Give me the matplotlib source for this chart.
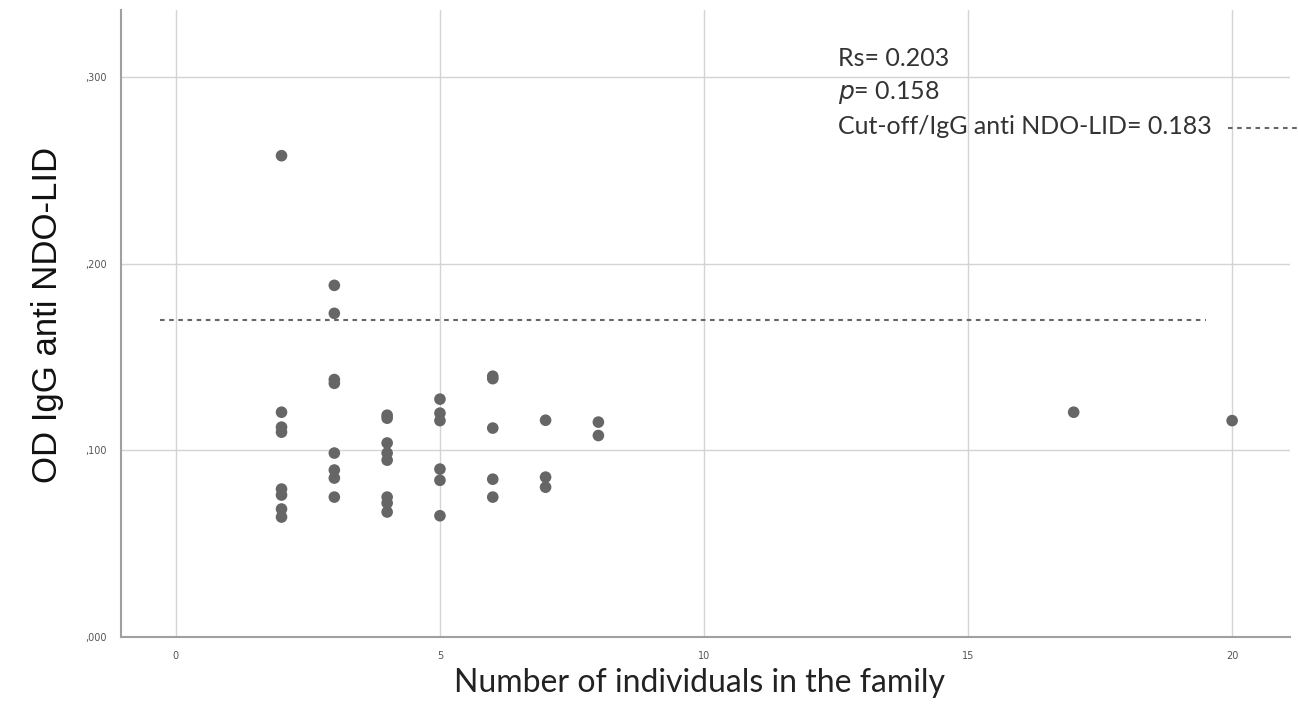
import matplotlib
matplotlib.use("Agg")
import matplotlib.pyplot as plt
from matplotlib.ticker import FuncFormatter

# family size vs OD IgG anti NDO-LID
family_size = [2, 2, 2, 2, 2, 2, 2, 2,
               3, 3, 3, 3, 3, 3, 3, 3,
               4, 4, 4, 4, 4, 4, 4, 4,
               5, 5, 5, 5, 5, 5,
               6, 6, 6, 6, 6,
               7, 7, 7,
               8, 8,
               17, 20]
od_igg = [0.258, 0.1205, 0.1125, 0.1098, 0.0793, 0.0761, 0.0686, 0.0643,
          0.1885, 0.1735, 0.138, 0.136, 0.0986, 0.0895, 0.0852, 0.075,
          0.1189, 0.1173, 0.104, 0.0986, 0.0948, 0.075, 0.0718, 0.067,
          0.1275, 0.120, 0.116, 0.090, 0.084, 0.065,
          0.1398, 0.1385, 0.112, 0.0846, 0.075,
          0.1162, 0.0857, 0.0803,
          0.1152, 0.108,
          0.1205, 0.116]

cutoff_line = 0.170
cutoff_span = (-0.3, 19.5)
stats_lines = ["Rs= 0.203", "$p$= 0.158", "Cut-off/IgG anti NDO-LID= 0.183"]

x_ticks = [0, 5, 10, 15, 20]
y_ticks = [0.0, 0.1, 0.2, 0.3]

fig = plt.figure(figsize=(12.98, 7.28), dpi=100)
ax = fig.add_axes([0.0932, 0.125, 0.9008, 0.861])

ax.grid(True, color="#d4d4d4", linewidth=1.0)
ax.set_axisbelow(True)
ax.scatter(family_size, od_igg, s=70, color="#666666", edgecolors="none", zorder=3)
ax.plot(cutoff_span, [cutoff_line, cutoff_line], linestyle=(0, (2.2, 2.2)),
        color="#666666", linewidth=1.5, zorder=2)

ax.set_xlim(-1.04, 21.1)
ax.set_ylim(0, 0.336)
ax.set_xticks(x_ticks)
ax.set_yticks(y_ticks)
ax.yaxis.set_major_formatter(FuncFormatter(lambda v, _: f"{v:.3f}".replace("0.", ",")))
ax.tick_params(length=0, labelsize=7, colors="#555555", pad=10)
for s in ("top", "right"):
    ax.spines[s].set_visible(False)
for s in ("left", "bottom"):
    ax.spines[s].set_color("#a0a0a0")
    ax.spines[s].set_linewidth(1.5)

# axis titles placed by hand to match the reference
fig.text(48 / 1298, 1 - 315 / 728, "OD IgG anti NDO-LID", rotation=90, fontsize=25,
         family="Liberation Sans", color="#111111", ha="center", va="center")
fig.text(700 / 1298, 1 - 683 / 728, "Number of individuals in the family", fontsize=23,
         family="Lato", color="#222222", ha="center", va="center")

for i, line in enumerate(stats_lines):
    fig.text(838 / 1298, 1 - (58 + 34 * i) / 728, line, fontsize=18, family="Lato",
             color="#333333", va="center", ha="left")
fig.add_artist(plt.Line2D([1228 / 1298, 1.0], [1 - 128 / 728] * 2, linestyle=(0, (2.2, 2.2)),
                          color="#666666", linewidth=1.5))

fig.savefig("out.png", dpi=100)
